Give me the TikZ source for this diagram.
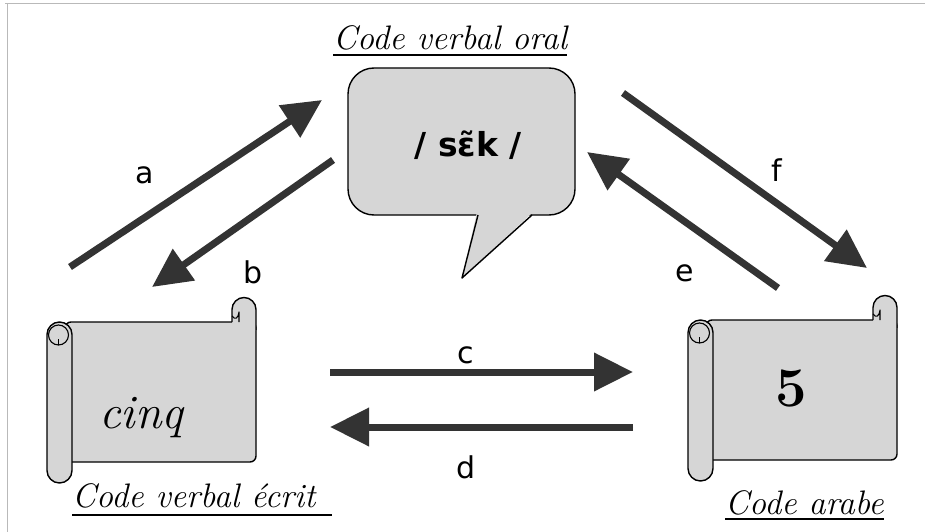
\documentclass[tikz,border=0pt]{standalone}
\usepackage{fontspec}
\newfontfamily\labfont{DejaVu Sans}
\usetikzlibrary{arrows.meta}
\definecolor{paper}{HTML}{D6D6D6}
\definecolor{arr}{HTML}{333333}
\tikzset{
  outl/.style={draw=black, line width=1.4pt, line join=round},
  bigarrow/.style={draw=arr, line width=7pt, -{Triangle[length=39pt,width=37pt]}, fill=arr},
  lab/.style={font=\labfont\fontsize{30}{34}\selectfont, inner sep=0pt},
  title/.style={font=\fontsize{34}{40}\selectfont\itshape, inner sep=0pt, anchor=base west},
  uline/.style={draw=black, line width=1.2pt},
  scrollpic/.pic={
    % sheet
    \draw[outl, fill=paper, rounded corners=6] (18,0) rectangle (209,140);
    % top-right roll
    \fill[paper] (185,8) -- (185,-12.5) arc[start angle=180,end angle=360,radius=12] -- (209,8) -- cycle;
    \draw[outl] (185,0) -- (185,-12.5) arc[start angle=180,end angle=360,radius=12] -- (209,8);
    \draw[outl, line width=1.1pt] (185,-6) .. controls (188,-2) and (191,-3) .. (192,-10) -- (192,0);
    % left roll
    \draw[outl, fill=paper] (0,12.5) -- (0,148.5) arc[start angle=180,end angle=0,radius=12.5]
      -- (25,12.5) arc[start angle=0,end angle=-180,radius=12.5] -- cycle;
    \draw[outl, line width=1.1pt] (11.5,13) circle[radius=10];
    \draw[outl, line width=1.1pt] (11.5,23) -- (11.5,17);
  }
}
\begin{document}
\begin{tikzpicture}[x=1pt, y=-1pt]
\useasboundingbox (0,0) rectangle (925,532);
\fill[white] (0,0) rectangle (925,532);
% faint frame
\draw[gray!55, line width=1pt] (5,4) -- (925,4);
\draw[gray!55, line width=1pt] (7,4) -- (7,532);

% speech bubble
\node[outl, fill=paper, rounded corners=26, minimum width=227pt, minimum height=147pt, inner sep=0pt]
  (oral) at (461.5,141.5) {};
\fill[paper] (477,212) -- (462,278) -- (533,212) -- cycle;
\draw[outl] (478,215) -- (462,278) -- (532,215);
\node[font=\labfont\bfseries\fontsize{33}{38}\selectfont, inner sep=0pt] (sek) at (468,145) {/ sɛ̃k /};

% scrolls
\pic (ecrit) at (47,322) {scrollpic};
\pic (arabe) at (688,320) {scrollpic};
\node[font=\fontsize{48}{52}\selectfont\itshape, inner sep=0pt, anchor=base] (cinq) at (141,428) {cinq};
\node[font=\fontsize{56}{60}\selectfont\bfseries, inner sep=0pt] (cinq5) at (791,388) {5};

% titles
\node[title] (t1) at (333,50) {Code verbal oral};
\draw[uline] ([yshift=-5pt]t1.base west) -- ([yshift=-5pt]t1.base east);
\node[title] (t2) at (72,507) {Code verbal écrit};
\draw[uline] ([yshift=-8pt]t2.base west) -- ([yshift=-8pt,xshift=16pt]t2.base east);
\node[title] (t3) at (725,514) {Code arabe};
\draw[uline] ([yshift=-5pt]t3.base west) -- ([yshift=-5pt]t3.base east);

% arrow end points
\coordinate (a0) at (70,267);  \coordinate (a1) at (322,100);
\coordinate (b0) at (333,160); \coordinate (b1) at (152,287);
\coordinate (c0) at (330,372); \coordinate (c1) at (633,372);
\coordinate (d0) at (633,427); \coordinate (d1) at (330,427);
\coordinate (e0) at (778,288); \coordinate (e1) at (587,152);
\coordinate (f0) at (623,93);  \coordinate (f1) at (867,268);

\draw[bigarrow] (a0) -- (a1);
\draw[bigarrow] (b0) -- (b1);
\draw[bigarrow] (c0) -- (c1);
\draw[bigarrow] (d0) -- (d1);
\draw[bigarrow] (e0) -- (e1);
\draw[bigarrow] (f0) -- (f1);

% arrow labels
\node[lab] (la) at (145,175) {a};
\node[lab] (lb) at (253,272) {b};
\node[lab] (lc) at (466,355) {c};
\node[lab] (ld) at (466,467) {d};
\node[lab] (le) at (685,273) {e};
\node[lab] (lf) at (777,170) {f};
\end{tikzpicture}
\end{document}
